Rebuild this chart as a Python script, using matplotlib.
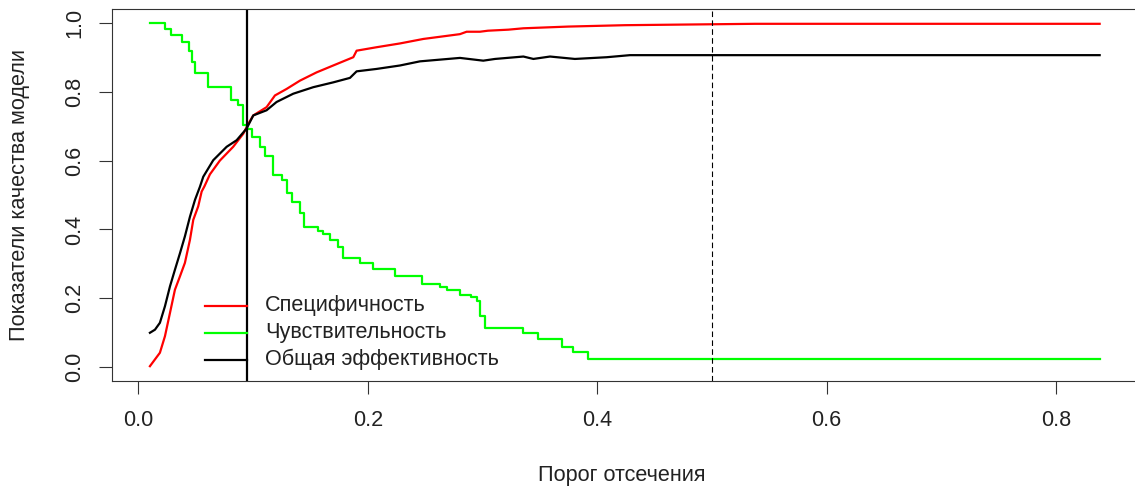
import matplotlib
matplotlib.use('Agg')
from matplotlib import pyplot as plt
import numpy as np

plt.rcParams['font.family'] = ['Liberation Sans', 'DejaVu Sans']

# Sensitivity (step curve): threshold where each level starts
sens_thr = [0.0100, 0.0231, 0.0281, 0.0377, 0.0443, 0.0464, 0.0493, 0.0609, 0.0806,
            0.0870, 0.0914, 0.0943, 0.0987, 0.1060, 0.1100, 0.1175, 0.1248, 0.1292,
            0.1336, 0.1408, 0.1443, 0.1568, 0.1611, 0.1670, 0.1739, 0.1786, 0.1930,
            0.2047, 0.2236, 0.2469, 0.2630, 0.2687, 0.2807, 0.2895, 0.2949, 0.2977,
            0.3021, 0.3355, 0.3486, 0.3690, 0.3790, 0.3920, 0.8380]
sens_val = [1.000, 0.982, 0.965, 0.943, 0.919, 0.885, 0.853, 0.815, 0.777,
            0.760, 0.702, 0.693, 0.668, 0.640, 0.612, 0.558, 0.543, 0.505,
            0.481, 0.447, 0.408, 0.395, 0.388, 0.370, 0.350, 0.317, 0.302,
            0.285, 0.264, 0.242, 0.233, 0.225, 0.211, 0.204, 0.192, 0.148,
            0.115, 0.100, 0.081, 0.060, 0.043, 0.025, 0.025]

# Specificity
spec_thr = [0.0100, 0.0187, 0.0231, 0.0275, 0.0318, 0.0362, 0.0405, 0.0449, 0.0478,
            0.0521, 0.0551, 0.0575, 0.0623, 0.0710, 0.0826, 0.0914, 0.0958, 0.1001,
            0.1117, 0.1190, 0.1292, 0.1408, 0.1553, 0.1698, 0.1873, 0.1902, 0.2076,
            0.2280, 0.2483, 0.2803, 0.2861, 0.2977, 0.3047, 0.3225, 0.3356, 0.3748,
            0.4242, 0.5375, 0.8380]
spec_val = [0.003, 0.042, 0.090, 0.158, 0.225, 0.264, 0.303, 0.370, 0.428,
            0.467, 0.510, 0.525, 0.560, 0.600, 0.640, 0.678, 0.707, 0.731,
            0.755, 0.789, 0.808, 0.832, 0.856, 0.876, 0.900, 0.919, 0.929,
            0.940, 0.953, 0.967, 0.974, 0.974, 0.977, 0.980, 0.984, 0.989,
            0.993, 0.997, 0.997]

# Overall efficiency
eff_thr = [0.0100, 0.0144, 0.0187, 0.0231, 0.0275, 0.0318, 0.0362, 0.0405, 0.0449,
           0.0493, 0.0536, 0.0565, 0.0652, 0.0769, 0.0856, 0.0943, 0.1001, 0.1117,
           0.1204, 0.1349, 0.1524, 0.1698, 0.1844, 0.1902, 0.2076, 0.2280, 0.2454,
           0.2803, 0.3006, 0.3109, 0.3356, 0.3443, 0.3588, 0.3805, 0.4082, 0.4285,
           0.8380]
eff_val = [0.100, 0.109, 0.129, 0.177, 0.235, 0.283, 0.331, 0.380, 0.437,
           0.486, 0.524, 0.553, 0.601, 0.640, 0.659, 0.693, 0.731, 0.746,
           0.770, 0.794, 0.813, 0.827, 0.840, 0.859, 0.866, 0.876, 0.888,
           0.898, 0.890, 0.895, 0.902, 0.895, 0.902, 0.895, 0.900, 0.906,
           0.906]

best_cutoff = 0.0943
default_cutoff = 0.5

legend_labels = ['Специфичность', 'Чувствительность', 'Общая эффективность']
legend_colors = ['#ff0000', '#00ff00', '#000000']

fs = 15.6

fig = plt.figure(figsize=(11.35, 4.88), dpi=100)
ax = fig.add_axes([111.5 / 1135, 107 / 488, 1026 / 1135, 372 / 488])

ax.plot(spec_thr, spec_val, c='#ff0000', lw=1.6)
ax.plot(sens_thr, sens_val, c='#00ff00', lw=1.6, drawstyle='steps-post')
ax.plot(eff_thr, eff_val, c='#000000', lw=1.6)
ax.axvline(best_cutoff, c='black', lw=1.6)
ax.axvline(default_cutoff, c='black', lw=0.8, linestyle=(0, (5, 3)))

# Legend without box, like R's bty="n"
leg_y = [0.179, 0.0997, 0.0223]
for lab, col, y in zip(legend_labels, legend_colors, leg_y):
    ax.plot([0.058, best_cutoff], [y, y], c=col, lw=1.6)
    ax.text(0.1103, y, lab, fontsize=fs, va='center', ha='left', color='#222222')

ax.set_xlim(-0.0235, 0.871)
ax.set_ylim(-0.04, 1.04)
ax.set_xticks([0.0, 0.2, 0.4, 0.6, 0.8])
ax.set_xticklabels(['0.0', '0.2', '0.4', '0.6', '0.8'])
ax.set_yticks([0.0, 0.2, 0.4, 0.6, 0.8, 1.0])
ax.set_yticklabels(['0.0', '0.2', '0.4', '0.6', '0.8', '1.0'], rotation=90, va='center')
ax.tick_params(axis='both', labelsize=fs, length=9.5, width=0.8, color='#333333',
               labelcolor='#222222')
ax.tick_params(axis='x', pad=11.5)
ax.tick_params(axis='y', pad=9.4)
for s in ax.spines.values():
    s.set_color('#333333')
    s.set_linewidth(0.8)

fig.text(622 / 1135, 1 - 475 / 488, 'Порог отсечения', fontsize=fs, ha='center', va='center',
         color='#222222')
fig.text(20 / 1135, 1 - 195 / 488, 'Показатели качества модели', fontsize=fs,
         ha='center', va='center', rotation=90, color='#222222')

fig.savefig('out.png', dpi=100)
